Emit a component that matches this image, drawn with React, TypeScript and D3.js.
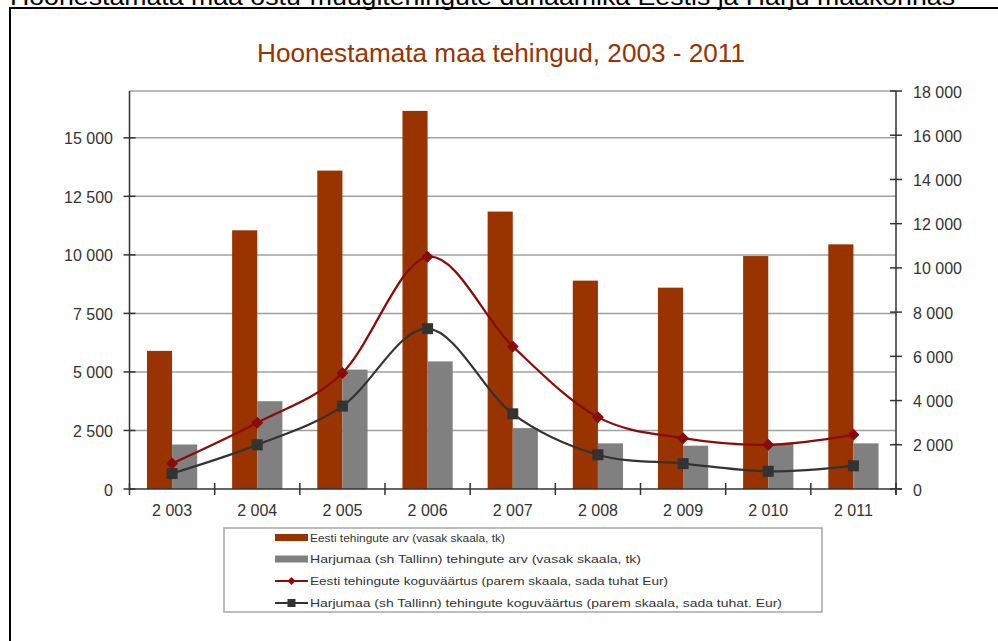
import React from "react";
import * as d3 from "d3";

const years = [2003, 2004, 2005, 2006, 2007, 2008, 2009, 2010, 2011];
const eestiArv = [5900, 11050, 13600, 16150, 11850, 8900, 8600, 9950, 10450];
const harjuArv = [1900, 3750, 5100, 5450, 2600, 1950, 1850, 1950, 1950];
const eestiVaartus = [1150, 3000, 5250, 10500, 6450, 3250, 2300, 2000, 2450];
const harjuVaartus = [700, 2000, 3750, 7250, 3400, 1550, 1150, 800, 1050];
const leftTicks = [0, 2500, 5000, 7500, 10000, 12500, 15000];
const rightTicks = [0, 2000, 4000, 6000, 8000, 10000, 12000, 14000, 16000, 18000];
const legendLabels = [
  "Eesti tehingute arv (vasak skaala, tk)",
  "Harjumaa (sh Tallinn) tehingute arv (vasak skaala, tk)",
  "Eesti tehingute koguväärtus (parem skaala, sada tuhat Eur)",
  "Harjumaa (sh Tallinn) tehingute koguväärtus (parem skaala, sada tuhat. Eur)",
];
const heading = "Hoonestamata maa ostu-müügitehingute dünaamika Eestis ja Harju maakonnas";
const title = "Hoonestamata maa tehingud, 2003 - 2011";

const ORANGE = "#993300";
const GRAY = "#808080";
const RED = "#8b0a0a";
const DARK = "#333333";
const FONT = "'Liberation Sans', Arial, sans-serif";

const locale = d3.formatLocale({ decimal: ",", thousands: " ", grouping: [3], currency: ["", ""] });
const fmt = locale.format(",");

export default function App() {
  const W = 998, H = 641;
  const left = 129.5, right = 896, top = 91, bottom = 489;
  const x = d3.scaleBand<number>().domain(years).range([left, right]).padding(0);
  const yL = d3.scaleLinear().domain([0, 17000]).range([bottom, top]);
  const yR = d3.scaleLinear().domain([0, 18000]).range([bottom, top]);
  const bw = x.bandwidth() * 0.295;
  const cx = (i: number) => (x(years[i]) as number) + x.bandwidth() / 2;

  const line = d3
    .line<number>()
    .x((_, i) => cx(i))
    .y((d) => yR(d))
    .curve(d3.curveCardinal.tension(0));

  const legendRowsY = [537.5, 559, 581, 603];
  const legendTextLen = [195, 331, 358, 472];

  return (
    <svg
      width={W}
      height={H}
      style={{ position: "absolute", left: 0, top: 0, background: "#fff" }}
      fontFamily={FONT}
    >
      <rect x={0} y={0} width={W} height={H} fill="#fff" />
      <text x={10} y={5} fontSize={24} fill="#000" textLength={945} lengthAdjust="spacingAndGlyphs">
        {heading}
      </text>
      <path d={`M10,${H + 5} L10,8 L${W + 5},8`} fill="none" stroke="#000" strokeWidth={2} />

      <text x={501} y={62} textAnchor="middle" fontSize={25} fill={ORANGE} textLength={488} lengthAdjust="spacingAndGlyphs">
        {title}
      </text>

      {/* gridlines */}
      {leftTicks.filter((t) => t > 0).map((t) => (
        <line key={"g" + t} x1={left} x2={right} y1={yL(t)} y2={yL(t)} stroke="#a0a0a0" strokeWidth={1.5} />
      ))}
      <line x1={left} x2={right} y1={top} y2={top} stroke="#a0a0a0" strokeWidth={1.5} />

      {/* bars */}
      {years.map((yr, i) => (
        <g key={"b" + yr}>
          <rect x={cx(i) - bw} y={yL(eestiArv[i])} width={bw} height={bottom - yL(eestiArv[i])} fill={ORANGE} />
          <rect x={cx(i)} y={yL(harjuArv[i])} width={bw} height={bottom - yL(harjuArv[i])} fill={GRAY} />
        </g>
      ))}

      {/* axes */}
      <line x1={left} x2={left} y1={top} y2={bottom} stroke={DARK} strokeWidth={1.5} />
      <line x1={right} x2={right} y1={top} y2={bottom + 6} stroke={DARK} strokeWidth={1.5} />
      <line x1={left} x2={right + 6} y1={bottom} y2={bottom} stroke={DARK} strokeWidth={1.5} />
      {leftTicks.map((t) => (
        <g key={"l" + t}>
          <line x1={left - 6} x2={left + 6} y1={yL(t)} y2={yL(t)} stroke={DARK} strokeWidth={1.5} />
          <text x={113} y={yL(t) + 6.5} textAnchor="end" fontSize={16} fill="#333">
            {fmt(t)}
          </text>
        </g>
      ))}
      {rightTicks.map((t) => (
        <g key={"r" + t}>
          <line x1={right - 6} x2={right + 6} y1={yR(t)} y2={yR(t)} stroke={DARK} strokeWidth={1.5} />
          <text x={913} y={yR(t) + 6.5} textAnchor="start" fontSize={16} fill="#333">
            {fmt(t)}
          </text>
        </g>
      ))}
      {d3.range(years.length + 1).map((k) => {
        const xx = left + k * x.bandwidth();
        return <line key={"xt" + k} x1={xx} x2={xx} y1={bottom - 6} y2={bottom + 6} stroke={DARK} strokeWidth={1.5} />;
      })}
      {years.map((yr, i) => (
        <text key={"xl" + yr} x={cx(i)} y={516} textAnchor="middle" fontSize={16} fill="#333">
          {fmt(yr)}
        </text>
      ))}

      {/* lines */}
      <path d={line(eestiVaartus) || ""} fill="none" stroke={RED} strokeWidth={2.2} />
      {eestiVaartus.map((v, i) => (
        <path
          key={"dm" + i}
          d={`M${cx(i)},${yR(v) - 6} L${cx(i) + 6},${yR(v)} L${cx(i)},${yR(v) + 6} L${cx(i) - 6},${yR(v)} Z`}
          fill={RED}
        />
      ))}
      <path d={line(harjuVaartus) || ""} fill="none" stroke={DARK} strokeWidth={2.2} />
      {harjuVaartus.map((v, i) => (
        <rect key={"sq" + i} x={cx(i) - 5.5} y={yR(v) - 5.5} width={11} height={11} fill={DARK} />
      ))}

      {/* legend */}
      <rect x={224} y={528} width={598} height={84} fill="#fff" stroke="#a6a6a6" strokeWidth={1.5} />
      {legendLabels.map((lab, i) => {
        const cy = legendRowsY[i];
        return (
          <g key={"lg" + i}>
            {i === 0 && <rect x={275} y={cy - 3.5} width={33} height={7} fill={ORANGE} />}
            {i === 1 && <rect x={275} y={cy - 3.5} width={33} height={7} fill={GRAY} />}
            {i === 2 && (
              <g>
                <line x1={275} x2={308} y1={cy} y2={cy} stroke={RED} strokeWidth={2.2} />
                <path d={`M291.5,${cy - 4} L295.5,${cy} L291.5,${cy + 4} L287.5,${cy} Z`} fill={RED} />
              </g>
            )}
            {i === 3 && (
              <g>
                <line x1={275} x2={308} y1={cy} y2={cy} stroke={DARK} strokeWidth={2.2} />
                <rect x={287.5} y={cy - 4} width={8} height={8} fill={DARK} />
              </g>
            )}
            <text x={310} y={cy + 4} fontSize={11.5} fill="#333" textLength={legendTextLen[i]} lengthAdjust="spacingAndGlyphs">
              {lab}
            </text>
          </g>
        );
      })}
    </svg>
  );
}
